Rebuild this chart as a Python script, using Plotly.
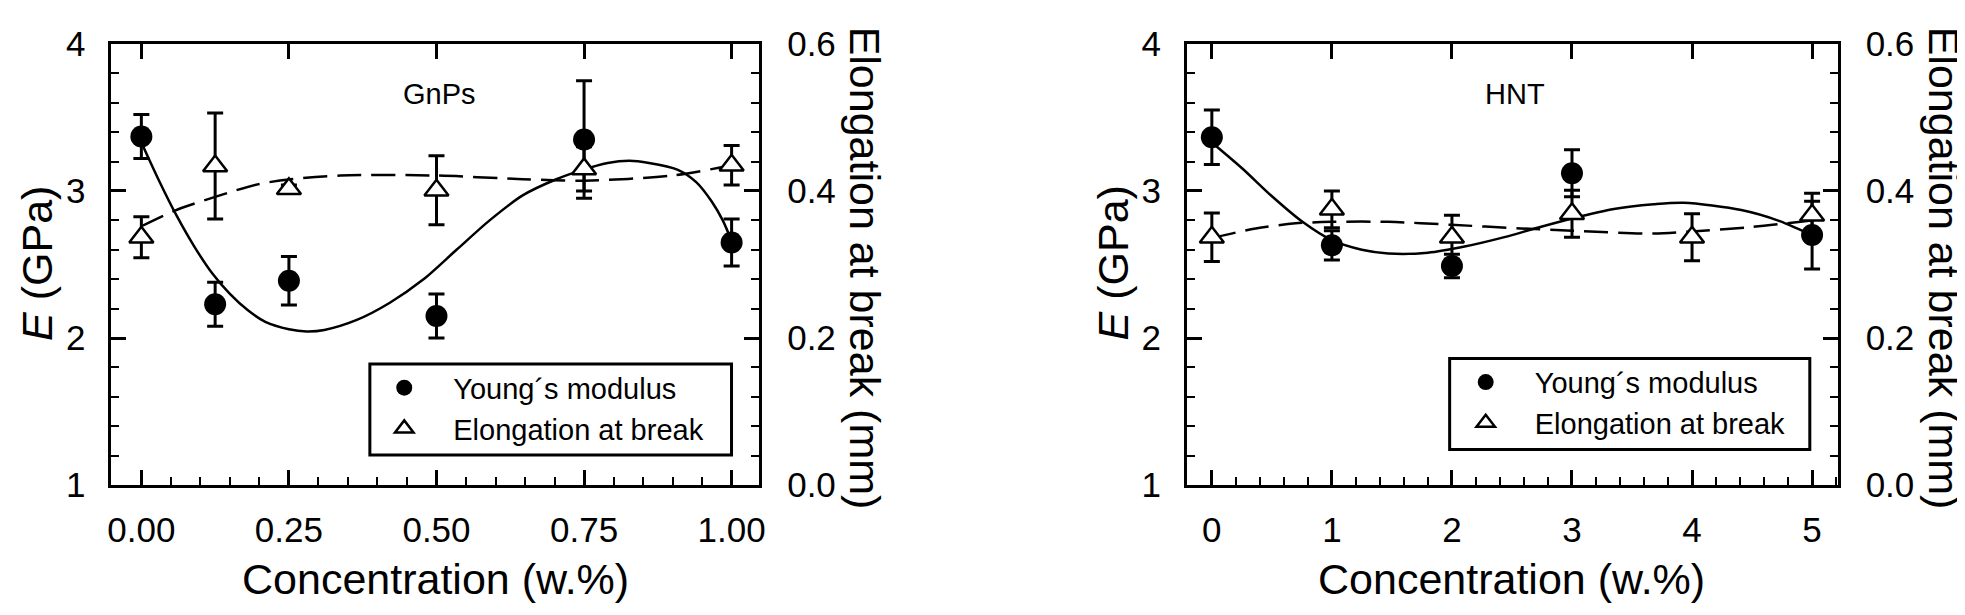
import plotly.graph_objects as go

# ---------------- data ----------------
conc_gnp = [0.0, 0.125, 0.25, 0.5, 0.75, 1.0]
E_gnp = [3.37, 2.23, 2.39, 2.15, 3.35, 2.65]
E_gnp_err = [0.15, 0.15, 0.165, 0.15, 0.40, 0.16]
el_gnp = [0.337, 0.434, 0.403, 0.401, 0.430, 0.435]
el_gnp_err = [0.028, 0.072, 0.005, 0.047, 0.030, 0.027]

fit_gnp_E_x = [0.0, 0.03, 0.06, 0.09, 0.12, 0.15, 0.18, 0.21, 0.25, 0.28, 0.31, 0.365, 0.421,
               0.478, 0.534, 0.59, 0.646, 0.702, 0.745, 0.79, 0.827, 0.86, 0.908, 0.94, 0.966, 0.985, 1.0]
fit_gnp_E_y = [3.33, 3.07, 2.83, 2.62, 2.44, 2.30, 2.19, 2.11, 2.06, 2.045, 2.055, 2.123, 2.24,
               2.399, 2.60, 2.80, 2.97, 3.078, 3.14, 3.19, 3.205, 3.19, 3.145, 3.06, 2.93, 2.80, 2.66]
fit_gnp_el_x = [0.0, 0.056, 0.129, 0.197, 0.253, 0.337, 0.5, 0.646, 0.75, 0.9, 1.0]
fit_gnp_el_y = [0.352, 0.373, 0.393, 0.409, 0.416, 0.421, 0.421, 0.416, 0.414, 0.421, 0.435]

conc_hnt = [0, 1, 2, 3, 4, 5]
E_hnt = [3.365, 2.63, 2.49, 3.12, None, 2.70]
E_hnt_err = [0.185, 0.10, 0.08, 0.16, 0.0, 0.23]
el_hnt = [0.337, 0.375, 0.337, 0.369, 0.337, 0.367]
el_hnt_err = [0.033, 0.025, 0.030, 0.032, 0.032, 0.030]

fit_hnt_E_x = [0.0, 0.254, 0.503, 0.752, 1.0, 1.249, 1.47, 1.80, 2.105, 2.437, 2.713,
               3.003, 3.349, 3.68, 3.93, 4.41, 4.73, 4.975]
fit_hnt_E_y = [3.33, 3.153, 2.962, 2.792, 2.665, 2.60, 2.575, 2.58, 2.622, 2.686, 2.75,
               2.813, 2.877, 2.909, 2.92, 2.87, 2.795, 2.708]
fit_hnt_el_x = [0.0, 0.365, 0.696, 1.0, 1.47, 1.995, 2.575, 3.003, 3.68, 4.0, 4.5, 5.0]
fit_hnt_el_y = [0.336, 0.349, 0.356, 0.358, 0.358, 0.354, 0.349, 0.346, 0.342, 0.345, 0.351, 0.360]

name_E = "Young´s modulus"
name_el = "Elongation at break"
panel_labels = ["GnPs", "HNT"]
x_title = "Concentration (w.%)"
yE_title = "<i>E</i> (GPa)"
yel_title = "Elongation at break (mm)"

# ---------------- styling / layout ----------------
W, H = 1965, 615
FONT = "Liberation Sans, Arial, sans-serif"
BLK = "black"

def px_x(p):
    return p / W

def px_y(p):
    return 1 - p / H

y_dom = [px_y(488), px_y(17)]
x_dom_L = [px_x(100), px_x(751)]
x_dom_R = [px_x(1181), px_x(1835)]

fig = go.Figure()

def add_panel(xa, ya_E, ya_el, conc, E, Eerr, el, elerr, fEx, fEy, felx, fely, legend):
    fig.add_trace(go.Scatter(x=fEx, y=fEy, mode="lines", line=dict(color=BLK, width=2.5, shape="spline", smoothing=0.8),
                             xaxis=xa, yaxis=ya_E, showlegend=False, hoverinfo="skip"))
    fig.add_trace(go.Scatter(x=felx, y=fely, mode="lines",
                             line=dict(color=BLK, width=2.5, dash="24px,10px", shape="spline", smoothing=0.8),
                             xaxis=xa, yaxis=ya_el, showlegend=False, hoverinfo="skip"))
    fig.add_trace(go.Scatter(x=conc, y=E, mode="markers", name=name_E,
                             marker=dict(symbol="circle", size=22, color=BLK),
                             error_y=dict(type="data", array=Eerr, visible=True, color=BLK, thickness=3, width=8),
                             xaxis=xa, yaxis=ya_E, legend=legend))
    fig.add_trace(go.Scatter(x=conc, y=el, mode="markers", name=name_el,
                             marker=dict(symbol="triangle-up", size=21, color="white", line=dict(color=BLK, width=2.5)),
                             error_y=dict(type="data", array=elerr, visible=True, color=BLK, thickness=3, width=8),
                             xaxis=xa, yaxis=ya_el, legend=legend))

add_panel("x", "y", "y2", conc_gnp, E_gnp, E_gnp_err, el_gnp, el_gnp_err,
          fit_gnp_E_x, fit_gnp_E_y, fit_gnp_el_x, fit_gnp_el_y, "legend")
add_panel("x2", "y3", "y4", conc_hnt, E_hnt, E_hnt_err, el_hnt, el_hnt_err,
          fit_hnt_E_x, fit_hnt_E_y, fit_hnt_el_x, fit_hnt_el_y, "legend2")
fig.add_trace(go.Scatter(x=[], y=[], xaxis="x3", yaxis="y", showlegend=False))
fig.add_trace(go.Scatter(x=[], y=[], xaxis="x4", yaxis="y3", showlegend=False))

tickfont = dict(family=FONT, size=35, color=BLK)
common = dict(showline=True, linewidth=3, linecolor=BLK, ticks="inside", ticklen=15, tickwidth=3,
              tickcolor=BLK, showgrid=False, zeroline=False, tickfont=tickfont, ticklabeloverflow="allow")

xr_L = [-0.0506, 1.0467]
xr_R = [-0.207, 5.213]

fig.update_layout(
    width=W, height=H, margin=dict(l=0, r=0, t=0, b=0),
    paper_bgcolor="white", plot_bgcolor="white",
    xaxis=dict(domain=x_dom_L, range=xr_L, anchor="y", tickvals=[0, 0.25, 0.5, 0.75, 1.0],
               ticktext=["0.00", "0.25", "0.50", "0.75", "1.00"], ticklabelstandoff=12,
               minor=dict(dtick=0.05, tick0=0, ticklen=8, tickwidth=2, ticks="inside", tickcolor=BLK), **common),
    xaxis3=dict(domain=x_dom_L, range=xr_L, anchor="y", overlaying="x", side="top",
                tickvals=[0, 0.25, 0.5, 0.75, 1.0], showticklabels=False, **common),
    yaxis=dict(domain=y_dom, range=[1, 4], anchor="x", tickvals=[1, 2, 3, 4], ticklabelstandoff=16,
               minor=dict(dtick=0.2, tick0=1, ticklen=8, tickwidth=2, ticks="inside", tickcolor=BLK), **common),
    yaxis2=dict(domain=y_dom, range=[0, 0.6], anchor="x", overlaying="y", side="right",
                tickvals=[0, 0.2, 0.4, 0.6], ticktext=["0.0", "0.2", "0.4", "0.6"], ticklabelstandoff=18,
                minor=dict(dtick=0.04, tick0=0, ticklen=8, tickwidth=2, ticks="inside", tickcolor=BLK), **common),
    xaxis2=dict(domain=x_dom_R, range=xr_R, anchor="y3", tickvals=[0, 1, 2, 3, 4, 5], ticklabelstandoff=12,
                minor=dict(dtick=0.2, tick0=0, ticklen=8, tickwidth=2, ticks="inside", tickcolor=BLK), **common),
    xaxis4=dict(domain=x_dom_R, range=xr_R, anchor="y3", overlaying="x2", side="top",
                tickvals=[0, 1, 2, 3, 4, 5], showticklabels=False, **common),
    yaxis3=dict(domain=y_dom, range=[1, 4], anchor="x2", tickvals=[1, 2, 3, 4], ticklabelstandoff=16,
                minor=dict(dtick=0.2, tick0=1, ticklen=8, tickwidth=2, ticks="inside", tickcolor=BLK), **common),
    yaxis4=dict(domain=y_dom, range=[0, 0.6], anchor="x2", overlaying="y3", side="right",
                tickvals=[0, 0.2, 0.4, 0.6], ticktext=["0.0", "0.2", "0.4", "0.6"], ticklabelstandoff=18,
                minor=dict(dtick=0.04, tick0=0, ticklen=8, tickwidth=2, ticks="inside", tickcolor=BLK), **common),
    legend=dict(x=px_x(345), y=px_y(357), xanchor="left", yanchor="top", bgcolor="rgba(0,0,0,0)",
                borderwidth=0, font=dict(family=FONT, size=29, color=BLK), tracegroupgap=0, itemwidth=88),
    legend2=dict(x=px_x(1432), y=px_y(351), xanchor="left", yanchor="top", bgcolor="rgba(0,0,0,0)",
                 borderwidth=0, font=dict(family=FONT, size=29, color=BLK), tracegroupgap=0, itemwidth=88),
    showlegend=True,
)

fig.add_shape(type="rect", xref="paper", yref="paper", x0=px_x(359.7), x1=px_x(723.2),
              y0=px_y(455.9), y1=px_y(358.8), line=dict(color=BLK, width=3))
fig.add_shape(type="rect", xref="paper", yref="paper", x0=px_x(1445), x1=px_x(1807),
              y0=px_y(450), y1=px_y(353), line=dict(color=BLK, width=3))

def ann(text, x, y, size, angle=0):
    fig.add_annotation(text=text, x=px_x(x), y=px_y(y), xref="paper", yref="paper", showarrow=False,
                       xanchor="center", yanchor="middle", textangle=angle,
                       font=dict(family=FONT, size=size, color=BLK))

ann(panel_labels[0], 429.5, 70, 29)
ann(panel_labels[1], 1510.6, 70, 29)
ann(x_title, 425.5, 588, 43)
ann(x_title, 1507, 588, 43)
ann(yE_title, 25, 251, 43, -90)
ann(yE_title, 1107, 251, 43, -90)
ann(yel_title, 857.5, 256, 43, 90)
ann(yel_title, 1942, 256, 43, 90)

fig.write_html("out.html")
